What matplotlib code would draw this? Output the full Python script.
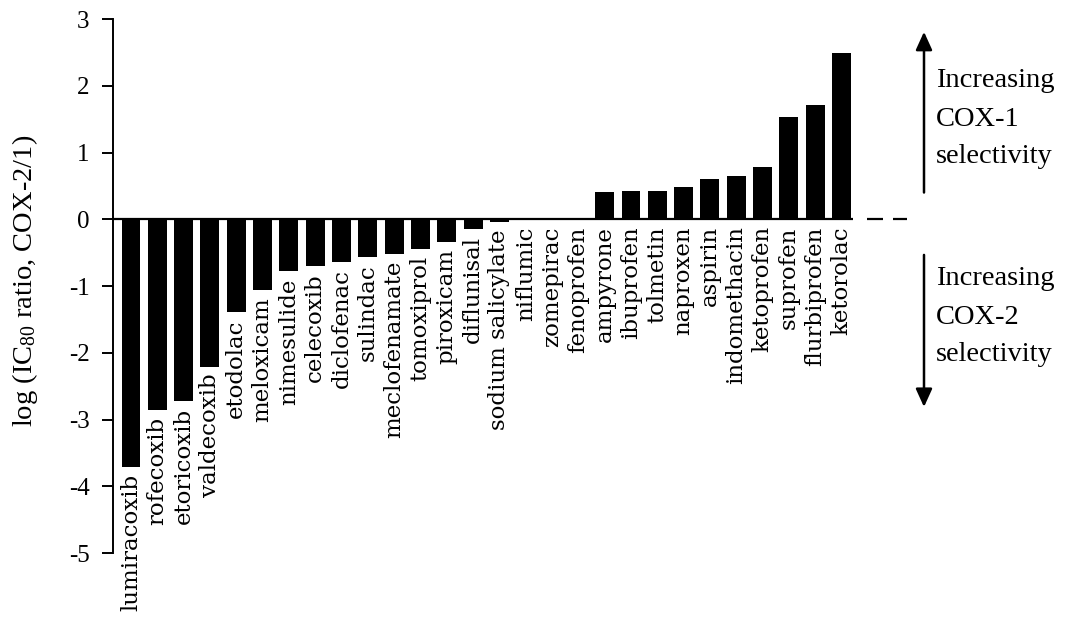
import matplotlib.pyplot as plt
from matplotlib.patches import FancyArrowPatch
import numpy as np

# NSAIDs ordered by COX-2/COX-1 selectivity
drugs = ["lumiracoxib", "rofecoxib", "etoricoxib", "valdecoxib", "etodolac",
         "meloxicam", "nimesulide", "celecoxib", "diclofenac", "sulindac",
         "meclofenamate", "tomoxiprol", "piroxicam", "diflunisal",
         "sodium salicylate", "niflumic", "zomepirac", "fenoprofen",
         "ampyrone", "ibuprofen", "tolmetin", "naproxen", "aspirin",
         "indomethacin", "ketoprofen", "suprofen", "flurbiprofen", "ketorolac"]
log_ratio = [-3.71, -2.86, -2.72, -2.21, -1.39,
             -1.06, -0.78, -0.70, -0.64, -0.57,
             -0.52, -0.44, -0.34, -0.14,
             -0.04, 0.02, 0.02, 0.02,
             0.41, 0.42, 0.43, 0.49, 0.60,
             0.65, 0.78, 1.54, 1.72, 2.50]
yticks = [3, 2, 1, 0, -1, -2, -3, -4, -5]

times = "Liberation Serif"
label_font = "DejaVu Serif"
plt.rcParams["mathtext.fontset"] = "custom"
plt.rcParams["mathtext.rm"] = times
plt.rcParams["mathtext.it"] = times + ":italic"

fig = plt.figure(figsize=(10.72, 6.18), dpi=100)
ax = fig.add_axes([0.1054, 0.105, 0.741, 0.864])

x = np.arange(len(drugs))
ax.bar(x, log_ratio, width=0.72, color="black")

# zero line: solid under the bars, dashed beyond them
ax.plot([-0.685, 27.45], [0, 0], color="black", lw=1.6, solid_capstyle="butt")
ax.plot([27.98, 29.5], [0, 0], color="black", lw=1.6, dashes=(7.2, 4.5),
        solid_capstyle="butt", dash_capstyle="butt")

ax.set_xlim(-0.685, 29.5)
ax.set_ylim(-5, 3)
ax.set_yticks(yticks)
ax.set_yticklabels([str(t) for t in yticks], family=times, fontsize=18)
ax.tick_params(axis="y", direction="out", length=8, width=1.4, pad=9)
ax.set_xticks([])
for side in ["top", "right", "bottom"]:
    ax.spines[side].set_visible(False)
ax.spines["left"].set_linewidth(1.4)

fig.text(25 / 1072, 1 - 281 / 618, "log (IC$_{80}$ ratio, COX-2/1)",
         family=times, fontsize=20.5, rotation=90, ha="center", va="center")

# drug names hang below each bar (or below the zero line for positive bars)
for xi, name, v in zip(x, drugs, log_ratio):
    ax.annotate(name, (xi, min(v, 0)), xytext=(0, -5), textcoords="offset points",
                rotation=90, ha="center", va="top", family=label_font,
                fontsize=16.5)

# selectivity arrows on the right
arrow_x = 924 / 1072
for y0, y1 in [(0.684, 0.953), (0.592, 0.337)]:
    fig.patches.append(FancyArrowPatch(
        (arrow_x, y0), (arrow_x, y1), transform=fig.transFigure,
        arrowstyle="-|>,head_length=0.55,head_width=0.25", mutation_scale=20,
        lw=1.8, color="black"))

text_x = 936 / 1072
blocks = [("COX-1", [87, 126, 163]), ("COX-2", [285, 324, 361])]
for enzyme, baselines in blocks:
    for line, yb in zip(["Increasing", enzyme, "selectivity"], baselines):
        fig.text(text_x, 1 - yb / 618, line, family=times, fontsize=20.5,
                 ha="left", va="baseline")

fig.savefig("out.png", dpi=100)
